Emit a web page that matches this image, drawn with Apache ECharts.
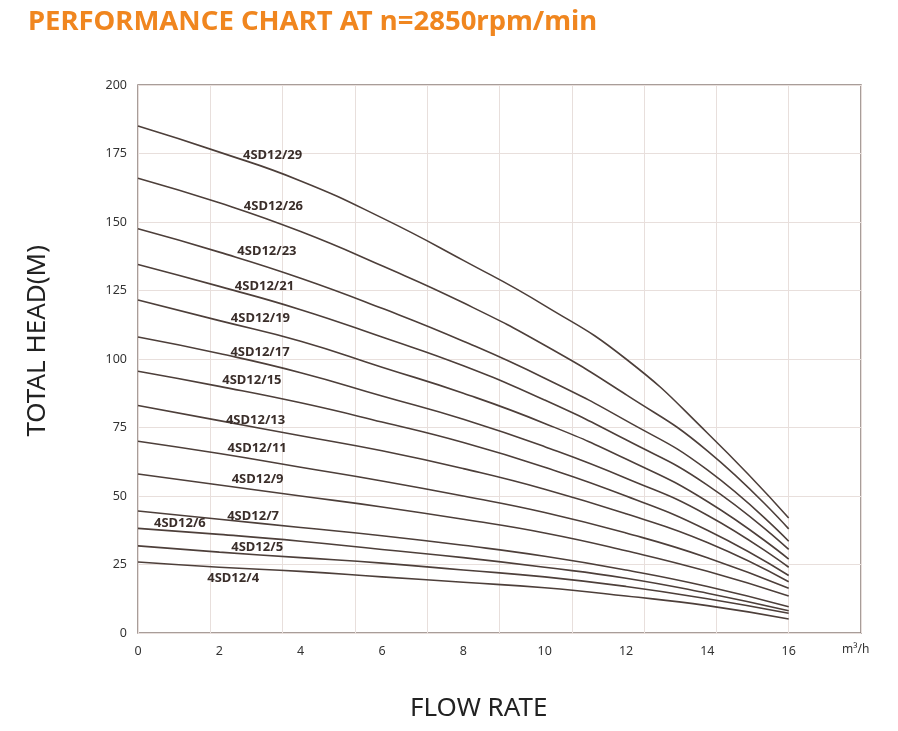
<!DOCTYPE html>
<html>
<head>
<meta charset="utf-8">
<title>Performance chart</title>
<script src="https://cdn.jsdelivr.net/npm/echarts@6/dist/echarts.min.js"></script>
<style>
html, body { margin: 0; padding: 0; background: #fff; }
#chart { width: 898px; height: 731px; }
</style>
</head>
<body>
<div id="chart"></div>
<script>
// flow rate points, m3/h
var flow = [0, 2, 4, 6, 8, 10, 12, 14, 16];

// pump models, top to bottom
var models = ['4SD12/29', '4SD12/26', '4SD12/23', '4SD12/21', '4SD12/19', '4SD12/17', '4SD12/15',
	'4SD12/13', '4SD12/11', '4SD12/9', '4SD12/7', '4SD12/6', '4SD12/5', '4SD12/4'];

// total head (m) at each flow point
var head29 = [185, 175.5, 165, 151.5, 136, 119.5, 100, 73, 42];
var head26 = [166, 157, 146.5, 134, 120.5, 105, 87, 66.5, 38];
var head23 = [147.5, 139, 129.5, 118.5, 106.5, 93, 77.5, 59.5, 33.5];
var head21 = [134.5, 126.5, 118, 108, 97.5, 85, 70.5, 54, 30.5];
var head19 = [121.5, 114, 106.5, 97, 87.5, 76.5, 63.5, 48, 27];
var head17 = [108, 102, 95, 86.5, 78, 68, 56.5, 43, 24];
var head15 = [95.5, 90, 84, 77, 69.5, 60.5, 50, 37.5, 21];
var head13 = [83, 77.5, 72, 66.5, 60, 52.5, 43.5, 33, 18.7];
var head11 = [70, 65.5, 60.5, 55.5, 50, 44, 36.5, 27.5, 16.3];
var head9 = [58, 54, 50, 46, 41.5, 36.5, 30, 22.5, 13.5];
var head7 = [44.5, 41.5, 38.5, 35.5, 32, 28, 23, 17, 9.6];
var head6 = [38.2, 36, 33.5, 30.5, 27.5, 24, 20, 14.5, 8.1];
var head5 = [31.8, 29.5, 27.5, 25.5, 23, 20.5, 17, 12.5, 7.2];
var head4 = [25.9, 24, 22.5, 20.5, 18.5, 16.5, 13.5, 10, 5.1];
var heads = [head29, head26, head23, head21, head19, head17, head15, head13, head11, head9, head7, head6, head5, head4];

// where each model name sits, in flow / head units
var labelAt = [[3.31, 174.2], [3.33, 155.8], [3.17, 139.4], [3.11, 126.6], [3.01, 114.9], [3.0, 102.3], [2.8, 92.1],
	[2.89, 77.7], [2.93, 67.4], [2.94, 56.1], [2.83, 42.7], [1.03, 40.0], [2.93, 31.1], [2.34, 20.0]];

var yTicks = [0, 25, 50, 75, 100, 125, 150, 175, 200];
var xTicks = [0, 2, 4, 6, 8, 10, 12, 14, 16];

// the grid has 10 columns, 16 m3/h falls on the 9th line
var xMax = 160 / 9;
var lineColor = '#4d3f3a';
var font = 'Noto Sans';

var series = models.map(function(name, i) {
	return {
		name: name,
		type: 'line',
		smooth: 0.5,
		symbol: 'none',
		xAxisIndex: 0,
		lineStyle: { color: lineColor, width: 1.6 },
		data: flow.map(function(q, k) { return [q, heads[i][k]]; }),
		markPoint: {
			symbol: 'circle',
			symbolSize: 1,
			silent: true,
			itemStyle: { color: 'rgba(0,0,0,0)' },
			label: {
				show: true,
				position: 'inside',
				formatter: name,
				color: '#3a2e2a',
				fontFamily: font,
				fontWeight: 'bold',
				fontSize: 13
			},
			data: [{ coord: labelAt[i] }]
		}
	};
});

var myChart = echarts.init(document.getElementById('chart'));
myChart.setOption({
	backgroundColor: '#fff',
	animation: false,
	title: {
		text: 'PERFORMANCE CHART AT n=2850rpm/min',
		left: 23,
		top: 3,
		textStyle: { color: '#f0861f', fontFamily: font, fontWeight: 'bold', fontSize: 27.5 }
	},
	grid: {
		left: 138, right: 37, top: 85, bottom: 98,
		show: true,
		borderColor: '#8c7d78',
		borderWidth: 1.5
	},
	xAxis: [{
		type: 'value',
		min: 0,
		max: xMax,
		interval: 16 / 9,
		axisLine: { show: false },
		axisTick: { show: false },
		axisLabel: { show: false },
		splitLine: { show: true, lineStyle: { color: '#e8dfdc', width: 1 } }
	}, {
		type: 'value',
		min: 0,
		max: xMax,
		interval: 2,
		position: 'bottom',
		axisLine: { show: false },
		axisTick: { show: false },
		splitLine: { show: false },
		axisLabel: {
			margin: 12,
			color: '#333',
			fontFamily: font,
			fontSize: 12.5,
			showMaxLabel: false,
			formatter: function(v) { return xTicks.indexOf(v) >= 0 ? String(v) : ''; }
		}
	}],
	yAxis: {
		type: 'value',
		min: 0,
		max: 200,
		interval: 25,
		axisLine: { show: false },
		axisTick: { show: false },
		axisLabel: {
			margin: 11,
			color: '#333',
			fontFamily: font,
			fontSize: 12.5,
			formatter: function(v) { return yTicks.indexOf(v) >= 0 ? String(v) : ''; }
		},
		splitLine: { show: true, lineStyle: { color: '#e8dfdc', width: 1 } }
	},
	graphic: [{
		type: 'text',
		left: 842,
		top: 644,
		style: { text: 'm³/h', fill: '#333', font: '12px "Noto Sans"' }
	}, {
		type: 'text',
		left: 410,
		top: 696,
		style: { text: 'FLOW RATE', fill: '#222', font: '26px "Noto Sans"' }
	}, {
		type: 'text',
		left: 25,
		top: 245,
		rotation: Math.PI / 2,
		originX: 0,
		originY: 0,
		style: { text: 'TOTAL HEAD(M)', fill: '#222', font: '26px "Noto Sans"' }
	}],
	series: series
});
</script>
</body>
</html>
